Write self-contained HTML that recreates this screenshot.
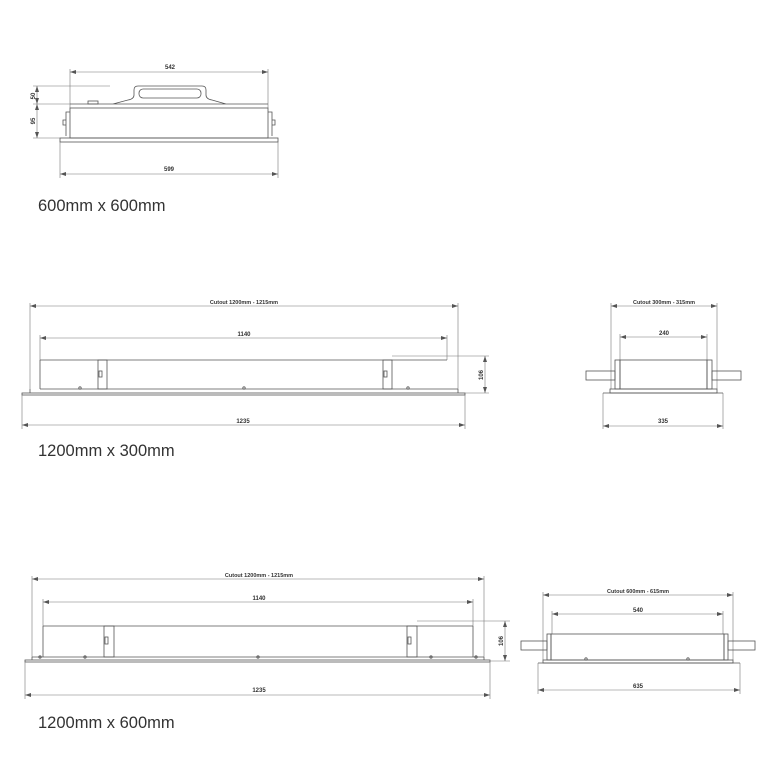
<!DOCTYPE html>
<html><head><meta charset="utf-8"><style>
html,body{margin:0;padding:0;background:#fff;}
svg{display:block}
.l{stroke:#555;stroke-width:0.8;fill:none}
.d{stroke:#777;stroke-width:0.6;fill:none}
.t{font-family:"Liberation Sans",sans-serif;font-size:6px;fill:#333;font-weight:bold}
.lab{font-family:"Liberation Sans",sans-serif;font-size:16.5px;fill:#333}
</style></head><body>
<svg width="768" height="768" viewBox="0 0 768 768" xmlns="http://www.w3.org/2000/svg">
<defs>
<marker id="a" markerWidth="6" markerHeight="4" refX="6" refY="2" orient="auto-start-reverse" markerUnits="userSpaceOnUse"><path d="M0,0 L6,2 L0,4z" fill="#555"/></marker>
</defs>

<!-- TOP 600x600 -->
<line class="d" x1="70" y1="69" x2="70" y2="108"/><line class="d" x1="268" y1="69" x2="268" y2="108"/>
<line class="d" x1="70" y1="72" x2="268" y2="72" marker-start="url(#a)" marker-end="url(#a)"/>
<text class="t" x="170" y="69" text-anchor="middle">542</text>
<path class="l" d="M70,104 H268 M113,104 L128,100 Q134,99 134,95 L134,90 Q134,86 138,86 H202 Q206,86 206,90 L206,95 Q206,99 212,100 L226,104"/>
<rect class="l" x="139" y="89" width="62" height="9" rx="4"/>
<rect class="l" x="88" y="101" width="10" height="3"/>
<rect class="l" x="70" y="108" width="198" height="30"/>
<path class="l" d="M70,112 H66 V136 M268,112 H272 V136 M66,120 h-3 v5 h3 M272,120 h3 v5 h-3"/>
<rect class="l" x="60" y="138" width="218" height="4"/>
<line class="d" x1="60" y1="142" x2="60" y2="178"/><line class="d" x1="278" y1="142" x2="278" y2="178"/>
<line class="d" x1="60" y1="174" x2="278" y2="174" marker-start="url(#a)" marker-end="url(#a)"/>
<text class="t" x="169" y="171" text-anchor="middle">599</text>
<line class="d" x1="33" y1="86" x2="110" y2="86"/><line class="d" x1="33" y1="104" x2="70" y2="104"/><line class="d" x1="33" y1="138" x2="60" y2="138"/>
<line class="d" x1="37" y1="86" x2="37" y2="104" marker-start="url(#a)" marker-end="url(#a)"/>
<line class="d" x1="37" y1="104" x2="37" y2="138" marker-start="url(#a)" marker-end="url(#a)"/>
<text class="t" transform="translate(35,96) rotate(-90)" text-anchor="middle">50</text>
<text class="t" transform="translate(35,121) rotate(-90)" text-anchor="middle">95</text>
<text class="lab" x="38" y="211">600mm x 600mm</text>

<!-- MIDDLE 1200x300 -->
<line class="d" x1="30" y1="303" x2="30" y2="389"/><line class="d" x1="458" y1="303" x2="458" y2="389"/>
<line class="d" x1="30" y1="306" x2="458" y2="306" marker-start="url(#a)" marker-end="url(#a)"/>
<text class="t" x="244" y="304" text-anchor="middle" style="font-size:5.5px">Cutout 1200mm - 1215mm</text>
<line class="d" x1="40" y1="335" x2="40" y2="360"/><line class="d" x1="447" y1="335" x2="447" y2="360"/>
<line class="d" x1="40" y1="338" x2="447" y2="338" marker-start="url(#a)" marker-end="url(#a)"/>
<text class="t" x="244" y="336" text-anchor="middle">1140</text>
<path class="l" d="M40,360 H447 M40,389 H458 M30,389 V393 M458,389 V393"/>
<line class="l" x1="40" y1="360" x2="40" y2="389"/>
<rect class="l" x="98" y="360" width="9" height="29"/><rect class="l" x="383" y="360" width="9" height="29"/>
<rect class="l" x="99" y="371" width="3" height="6"/><rect class="l" x="384" y="371" width="3" height="6"/>
<rect class="l" x="22" y="393" width="443" height="2"/>
<circle class="l" cx="80" cy="388" r="1.2"/><circle class="l" cx="244" cy="388" r="1.2"/><circle class="l" cx="408" cy="388" r="1.2"/>
<line class="d" x1="392" y1="356" x2="489" y2="356"/><line class="d" x1="465" y1="393" x2="489" y2="393"/>
<line class="d" x1="485" y1="356" x2="485" y2="393" marker-start="url(#a)" marker-end="url(#a)"/>
<text class="t" transform="translate(483,375) rotate(-90)" text-anchor="middle">106</text>
<line class="d" x1="22" y1="395" x2="22" y2="429"/><line class="d" x1="465" y1="395" x2="465" y2="429"/>
<line class="d" x1="22" y1="425" x2="465" y2="425" marker-start="url(#a)" marker-end="url(#a)"/>
<text class="t" x="243" y="423" text-anchor="middle">1235</text>
<text class="lab" x="38" y="456">1200mm x 300mm</text>

<!-- MIDDLE RIGHT -->
<line class="d" x1="611" y1="303" x2="611" y2="389"/><line class="d" x1="717" y1="303" x2="717" y2="389"/>
<line class="d" x1="611" y1="306" x2="717" y2="306" marker-start="url(#a)" marker-end="url(#a)"/>
<text class="t" x="664" y="304" text-anchor="middle" style="font-size:5.5px">Cutout 300mm - 315mm</text>
<line class="d" x1="620" y1="334" x2="620" y2="360"/><line class="d" x1="707" y1="334" x2="707" y2="360"/>
<line class="d" x1="620" y1="337" x2="707" y2="337" marker-start="url(#a)" marker-end="url(#a)"/>
<text class="t" x="664" y="335" text-anchor="middle">240</text>
<rect class="l" x="620" y="360" width="87" height="29"/>
<rect class="l" x="615" y="360" width="5" height="29"/><rect class="l" x="707" y="360" width="5" height="29"/>
<rect class="l" x="586" y="371" width="29" height="9"/><rect class="l" x="712" y="371" width="29" height="9"/>
<rect class="l" x="610" y="389" width="107" height="4"/>
<line class="d" x1="603" y1="393" x2="603" y2="429"/><line class="d" x1="723" y1="393" x2="723" y2="429"/>
<line class="l" x1="603" y1="393" x2="723" y2="393"/>
<line class="d" x1="603" y1="426" x2="723" y2="426" marker-start="url(#a)" marker-end="url(#a)"/>
<text class="t" x="663" y="423" text-anchor="middle">335</text>

<!-- BOTTOM 1200x600 -->
<line class="d" x1="32" y1="576" x2="32" y2="657"/><line class="d" x1="484" y1="576" x2="484" y2="657"/>
<line class="d" x1="32" y1="579" x2="484" y2="579" marker-start="url(#a)" marker-end="url(#a)"/>
<text class="t" x="259" y="577" text-anchor="middle" style="font-size:5.5px">Cutout 1200mm - 1215mm</text>
<line class="d" x1="43" y1="599" x2="43" y2="626"/><line class="d" x1="473" y1="599" x2="473" y2="626"/>
<line class="d" x1="43" y1="602" x2="473" y2="602" marker-start="url(#a)" marker-end="url(#a)"/>
<text class="t" x="259" y="600" text-anchor="middle">1140</text>
<path class="l" d="M43,626 H473 M32,657 H484 M43,626 V657 M473,626 V657"/>
<rect class="l" x="104" y="626" width="10" height="31"/><rect class="l" x="407" y="626" width="10" height="31"/>
<rect class="l" x="105" y="637" width="3" height="7"/><rect class="l" x="408" y="637" width="3" height="7"/>
<rect class="l" x="25" y="660" width="465" height="2"/>
<line class="l" x1="32" y1="657" x2="32" y2="660"/><line class="l" x1="484" y1="657" x2="484" y2="660"/>
<circle class="l" cx="40" cy="657" r="1.2"/><circle class="l" cx="85" cy="657" r="1.2"/><circle class="l" cx="258" cy="657" r="1.2"/><circle class="l" cx="431" cy="657" r="1.2"/><circle class="l" cx="476" cy="657" r="1.2"/>
<line class="d" x1="417" y1="621" x2="510" y2="621"/><line class="d" x1="490" y1="661" x2="510" y2="661"/>
<line class="d" x1="505" y1="621" x2="505" y2="661" marker-start="url(#a)" marker-end="url(#a)"/>
<text class="t" transform="translate(503,641) rotate(-90)" text-anchor="middle">106</text>
<line class="d" x1="25" y1="662" x2="25" y2="699"/><line class="d" x1="490" y1="662" x2="490" y2="699"/>
<line class="d" x1="25" y1="695" x2="490" y2="695" marker-start="url(#a)" marker-end="url(#a)"/>
<text class="t" x="259" y="692" text-anchor="middle">1235</text>
<text class="lab" x="38" y="728">1200mm x 600mm</text>

<!-- BOTTOM RIGHT -->
<line class="d" x1="543" y1="592" x2="543" y2="660"/><line class="d" x1="733" y1="592" x2="733" y2="660"/>
<line class="d" x1="543" y1="595" x2="733" y2="595" marker-start="url(#a)" marker-end="url(#a)"/>
<text class="t" x="638" y="593" text-anchor="middle" style="font-size:5.5px">Cutout 600mm - 615mm</text>
<line class="d" x1="552" y1="611" x2="552" y2="634"/><line class="d" x1="723" y1="611" x2="723" y2="634"/>
<line class="d" x1="552" y1="614" x2="723" y2="614" marker-start="url(#a)" marker-end="url(#a)"/>
<text class="t" x="638" y="612" text-anchor="middle">540</text>
<rect class="l" x="551" y="634" width="173" height="26"/>
<rect class="l" x="547" y="634" width="4" height="26"/><rect class="l" x="724" y="634" width="4" height="26"/>
<rect class="l" x="521" y="641" width="26" height="9"/><rect class="l" x="728" y="641" width="27" height="9"/>
<rect class="l" x="543" y="660" width="190" height="3"/>
<circle class="l" cx="586" cy="659" r="1.2"/><circle class="l" cx="688" cy="659" r="1.2"/>
<line class="l" x1="538" y1="663" x2="740" y2="663"/>
<line class="d" x1="538" y1="663" x2="538" y2="694"/><line class="d" x1="740" y1="663" x2="740" y2="694"/>
<line class="d" x1="538" y1="690" x2="740" y2="690" marker-start="url(#a)" marker-end="url(#a)"/>
<text class="t" x="638" y="688" text-anchor="middle">635</text>
</svg>
</body></html>
